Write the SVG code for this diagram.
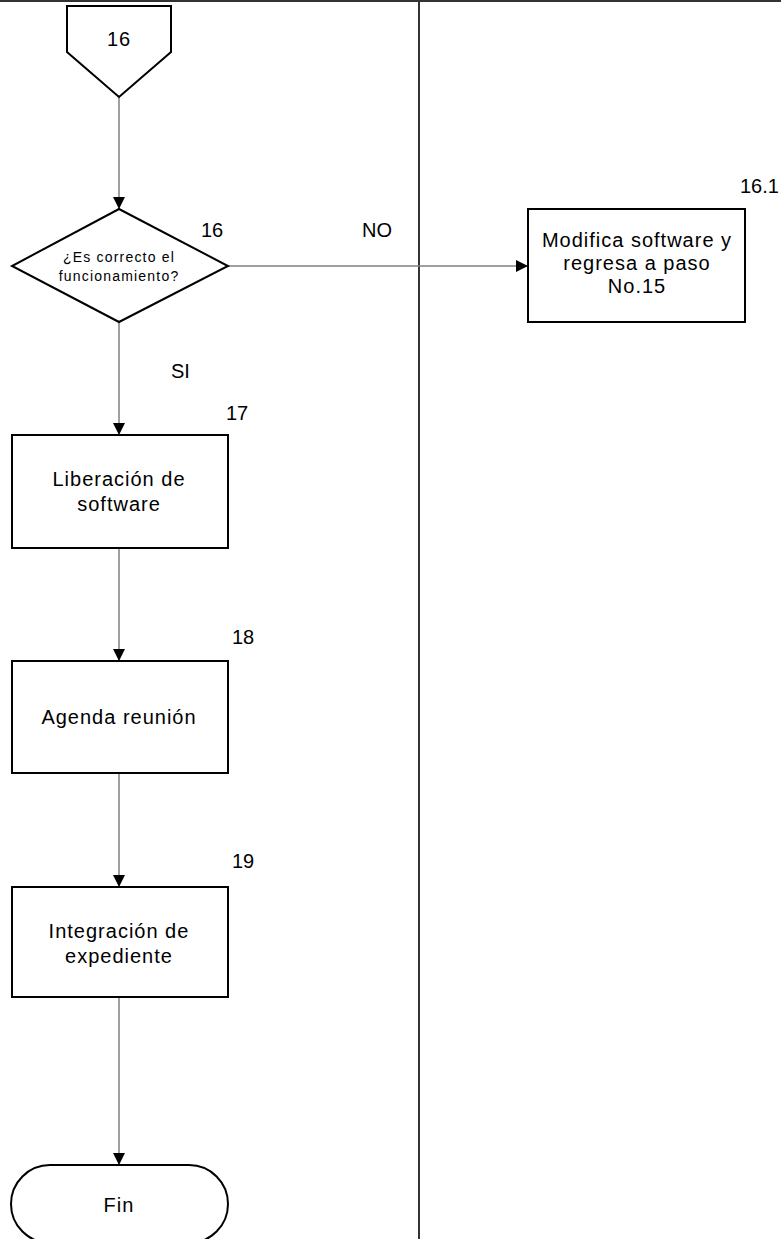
<svg xmlns="http://www.w3.org/2000/svg" width="781" height="1239" viewBox="0 0 781 1239">
  <defs>
    <marker id="arrow" viewBox="0 0 12 12" refX="12" refY="6" markerWidth="12" markerHeight="12" markerUnits="userSpaceOnUse" orient="auto">
      <path d="M0,0 L12,6 L0,12 Z" fill="#000"/>
    </marker>
    <style>
      .shape { fill: #fff; stroke: #000; stroke-width: 2; }
      .edge { fill: none; stroke: #808080; stroke-width: 1.5; marker-end: url(#arrow); }
      .lane { stroke: #333; stroke-width: 2; fill: none; }
      text { font-family: "Liberation Sans", Arial, sans-serif; fill: #000; }
      .lbl { font-size: 20px; text-anchor: middle; letter-spacing: 1px; }
      .small { font-size: 14px; text-anchor: middle; letter-spacing: 1.2px; }
      .num { font-size: 20px; }
    </style>
  </defs>

  <!-- swimlane frame -->
  <g id="lanes">
    <line class="lane" x1="0" y1="1" x2="781" y2="1"/>
    <line class="lane" x1="419" y1="0" x2="419" y2="1239"/>
  </g>

  <!-- connectors -->
  <g id="connectors">
    <line class="edge" x1="119" y1="97" x2="119" y2="209"/>
    <line class="edge" x1="228" y1="266" x2="528" y2="266"/>
    <line class="edge" x1="119" y1="322" x2="119" y2="435"/>
    <line class="edge" x1="119" y1="548" x2="119" y2="661"/>
    <line class="edge" x1="119" y1="773" x2="119" y2="887"/>
    <line class="edge" x1="119" y1="997" x2="119" y2="1165"/>
    <text class="num" x="362" y="237">NO</text>
    <text class="num" x="171" y="378">SI</text>
  </g>

  <!-- off-page connector 16 -->
  <g id="offpage16">
    <path class="shape" d="M67,6 L171,6 L171,52 L119,97 L67,52 Z"/>
    <text class="lbl" x="119" y="46">16</text>
  </g>

  <!-- decision 16 -->
  <g id="decision16">
    <path class="shape" d="M119,209 L228,266 L119,322 L12,266 Z"/>
    <text class="small" x="119" y="262">¿Es correcto el</text>
    <text class="small" x="119" y="281">funcionamiento?</text>
    <text class="num" x="201" y="237">16</text>
  </g>

  <!-- step 16.1 -->
  <g id="step16_1">
    <rect class="shape" x="528" y="209" width="217" height="113"/>
    <text class="lbl" x="637" y="247">Modifica software y</text>
    <text class="lbl" x="637" y="270">regresa a paso</text>
    <text class="lbl" x="637" y="293">No.15</text>
    <text class="num" x="740" y="193">16.1</text>
  </g>

  <!-- step 17 -->
  <g id="step17">
    <rect class="shape" x="12" y="435" width="216" height="113"/>
    <text class="lbl" x="119" y="486">Liberación de</text>
    <text class="lbl" x="119" y="511">software</text>
    <text class="num" x="226" y="420">17</text>
  </g>

  <!-- step 18 -->
  <g id="step18">
    <rect class="shape" x="12" y="661" width="216" height="112"/>
    <text class="lbl" x="119" y="724">Agenda reunión</text>
    <text class="num" x="232" y="644">18</text>
  </g>

  <!-- step 19 -->
  <g id="step19">
    <rect class="shape" x="12" y="887" width="216" height="110"/>
    <text class="lbl" x="119" y="938">Integración de</text>
    <text class="lbl" x="119" y="963">expediente</text>
    <text class="num" x="232" y="868">19</text>
  </g>

  <!-- end terminal -->
  <g id="fin">
    <rect class="shape" x="11" y="1165" width="217" height="78" rx="39" ry="39"/>
    <text class="lbl" x="119" y="1212">Fin</text>
  </g>
</svg>
